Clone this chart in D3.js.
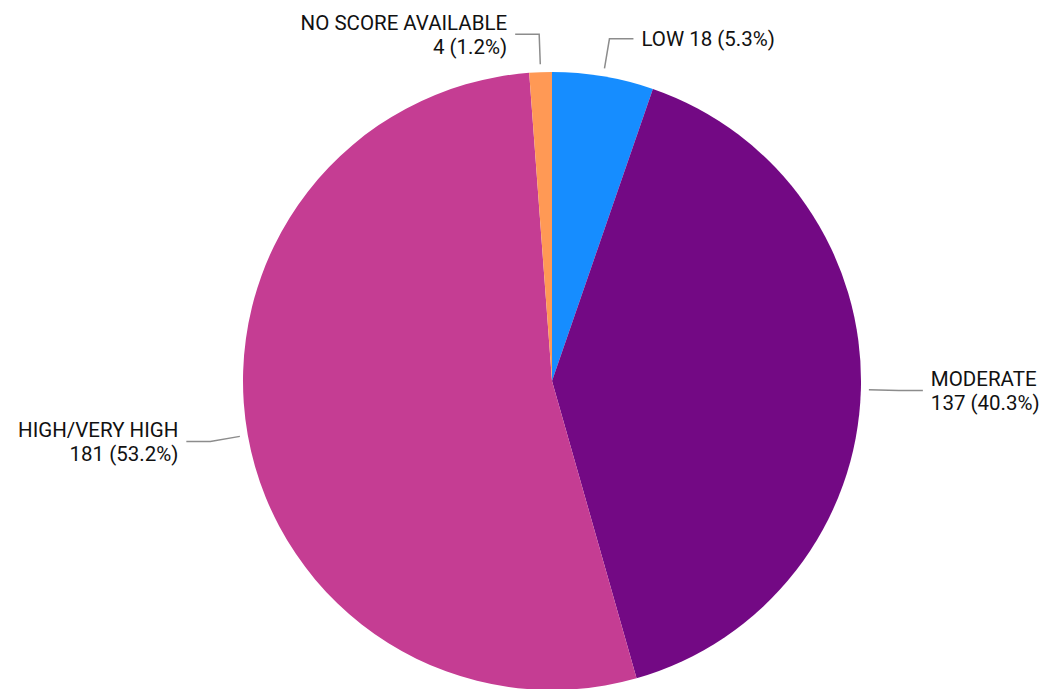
<!DOCTYPE html>
<html>
<head>
<meta charset="utf-8">
<script src="https://cdn.jsdelivr.net/npm/d3@7"></script>
<style>
  html, body { margin: 0; padding: 0; background: #ffffff; }
  svg { display: block; }
</style>
</head>
<body>
<svg id="chart" width="1042" height="689"></svg>
<script>
// Data
const categories = ["LOW", "MODERATE", "HIGH/VERY HIGH", "NO SCORE AVAILABLE"];
const values = [18, 137, 181, 4];
const percentLabels = ["5.3%", "40.3%", "53.2%", "1.2%"];
const colors = ["#168dff", "#730984", "#c53d93", "#ff9955"];

const W = 1042, H = 689;
const cx = 552, cy = 381, R = 309;

const svg = d3.select("#chart");
const g = svg.append("g").attr("transform", `translate(${cx},${cy})`);

const data = categories.map((c, i) => ({ cat: c, value: values[i], pct: percentLabels[i], color: colors[i] }));

const pie = d3.pie().sort(null).value(d => d.value).startAngle(0).endAngle(2 * Math.PI);
const arcs = pie(data);
const arc = d3.arc().innerRadius(0).outerRadius(R);

g.selectAll("path.slice")
  .data(arcs)
  .enter().append("path")
  .attr("class", "slice")
  .attr("d", arc)
  .attr("fill", d => d.data.color)
  .attr("stroke", "none");

const font = "Roboto, 'Noto Sans', sans-serif";
const fontSize = 20.5;
const lineH = 24;

arcs.forEach(a => {
  const mid = (a.startAngle + a.endAngle) / 2;
  const sx = Math.sin(mid), sy = -Math.cos(mid);
  const p0 = [sx * (R + 8), sy * (R + 8)];
  const p1 = [sx * (R + 38), sy * (R + 38)];
  const right = sx >= 0;
  const p2 = [p1[0] + (right ? 24 : -24), p1[1]];
  g.append("polyline")
    .attr("points", [p0, p1, p2].map(p => p.join(",")).join(" "))
    .attr("fill", "none")
    .attr("stroke", "#8c8c8c")
    .attr("stroke-width", 1.5);

  const lines = a.data.cat === "LOW"
    ? [`${a.data.cat} ${a.data.value} (${a.data.pct})`]
    : [a.data.cat, `${a.data.value} (${a.data.pct})`];
  const tx = p2[0] + (right ? 8 : -8);
  const t = g.append("text")
    .attr("x", tx)
    .attr("y", p2[1])
    .attr("text-anchor", right ? "start" : "end")
    .attr("font-family", font)
    .attr("font-size", fontSize)
    .attr("fill", "#111");
  const n = lines.length;
  lines.forEach((ln, i) => {
    t.append("tspan")
      .attr("x", tx)
      .attr("y", p2[1] + (i - (n - 1) / 2) * lineH)
      .attr("dy", "0.36em")
      .text(ln);
  });
});
</script>
</body>
</html>
